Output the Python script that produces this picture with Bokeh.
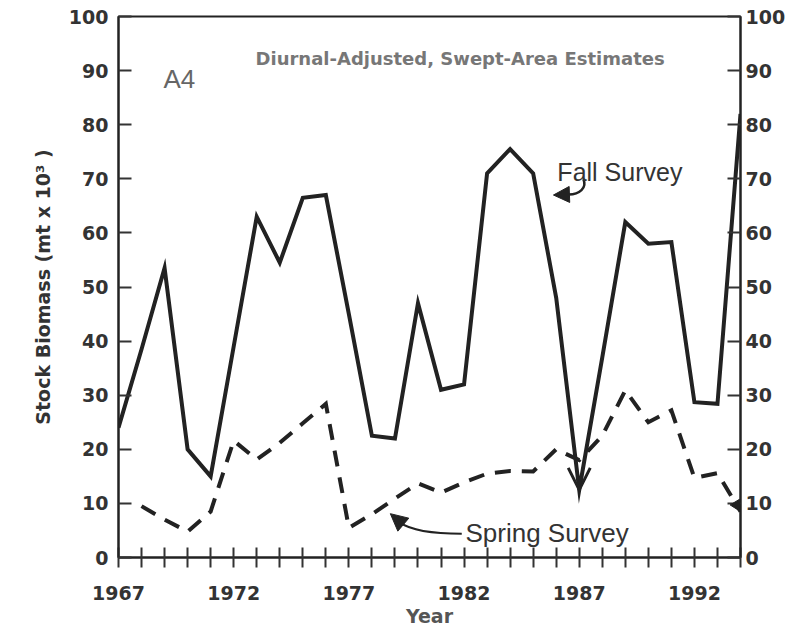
from bokeh.plotting import figure
from bokeh.models import (Range1d, LinearAxis, FixedTicker, Label, Arrow,
                          OpenHead, NormalHead, ColumnDataSource)
from bokeh.embed import file_html
from bokeh.resources import INLINE

# ---- data ----
fall_years = list(range(1967, 1995))
fall_biomass = [24, 38.5, 53.5, 20, 15, 39, 63, 54.5, 66.5, 67, 45, 22.5, 22, 47,
                31, 32, 71, 75.5, 71, 48, 12.5, 37, 62, 58, 58.3, 28.7, 28.4, 82]
spring_years = list(range(1968, 1995))
spring_biomass = [9.5, 7, 4.8, 8.5, 21.6, 18.1, 21.2, 24.8, 28.4, 5.5, 8, 10.9,
                  13.7, 12, 13.9, 15.5, 16, 15.9, 20, 18, 22.5, 30.9, 25, 27.2,
                  14.7, 15.6, 8.5]
x_ticks = list(range(1967, 1995))
x_labels = [1967, 1972, 1977, 1982, 1987, 1992]
y_ticks = list(range(0, 101, 10))

INK = "#222222"
TXT = "#333333"
GRAY = "#777777"
FONT = "DejaVu Sans"

p = figure(frame_width=622, frame_height=541,
           x_range=Range1d(1967, 1994), y_range=Range1d(0, 100),
           output_backend="svg", toolbar_location=None,
           min_border_left=118, min_border_right=53,
           min_border_top=16, min_border_bottom=70,
           background_fill_color="white", border_fill_color="white")
p.xgrid.visible = False
p.ygrid.visible = False
p.outline_line_color = INK
p.outline_line_width = 2

# x axis
xa = p.xaxis[0]
xa.ticker = FixedTicker(ticks=x_ticks, minor_ticks=[])
xa.major_label_overrides = {t: (str(t) if t in x_labels else "") for t in x_ticks}
xa.major_tick_in = 10
xa.major_tick_out = 10
xa.major_tick_line_width = 2
xa.major_tick_line_color = TXT
xa.axis_line_width = 2
xa.axis_line_color = INK
xa.major_label_text_font = FONT
xa.major_label_text_font_style = "bold"
xa.major_label_text_font_size = "19px"
xa.major_label_text_color = TXT
xa.major_label_standoff = 18
xa.axis_label = "Year"
xa.axis_label_text_font = FONT
xa.axis_label_text_font_style = "bold"
xa.axis_label_text_font_size = "19px"
xa.axis_label_text_color = "#555555"
xa.axis_label_standoff = 2

# left y axis
ya = p.yaxis[0]
ya.ticker = FixedTicker(ticks=y_ticks, minor_ticks=[])
ya.major_tick_in = 13
ya.major_tick_out = 0
ya.major_tick_line_width = 2
ya.major_tick_line_color = TXT
ya.axis_line_width = 2
ya.axis_line_color = INK
ya.major_label_text_font = FONT
ya.major_label_text_font_style = "bold"
ya.major_label_text_font_size = "19px"
ya.major_label_text_color = TXT
ya.major_label_standoff = 10
ya.axis_label = "Stock Biomass (mt x 10\u00b3 )"
ya.axis_label_text_font = FONT
ya.axis_label_text_font_style = "bold"
ya.axis_label_text_font_size = "19px"
ya.axis_label_text_color = TXT
ya.axis_label_standoff = 12

# right y axis
ra = LinearAxis(ticker=FixedTicker(ticks=y_ticks, minor_ticks=[]),
                major_tick_in=13, major_tick_out=0,
                major_tick_line_width=2, major_tick_line_color=TXT,
                axis_line_width=2, axis_line_color=INK,
                major_label_text_font=FONT, major_label_text_font_style="bold",
                major_label_text_font_size="19px", major_label_text_color=TXT,
                major_label_standoff=5)
p.add_layout(ra, "right")

# series
fall_src = ColumnDataSource(dict(x=fall_years, y=fall_biomass))
spring_src = ColumnDataSource(dict(x=spring_years, y=spring_biomass))
p.line("x", "y", source=fall_src, line_color=INK, line_width=4, line_join="miter")
p.line("x", "y", source=spring_src, line_color=INK, line_width=4,
       line_dash="16 11", line_join="miter")

# open arrowhead at the fall 1987 minimum
i87 = fall_years.index(1987)
p.add_layout(Arrow(end=OpenHead(size=22, line_width=3, line_color=INK),
                   x_start=fall_years[i87], y_start=fall_biomass[i87] + 4,
                   x_end=fall_years[i87], y_end=fall_biomass[i87],
                   line_alpha=0))
# small arrowhead at end of spring series
p.add_layout(Arrow(end=NormalHead(size=11, fill_color=INK, line_color=INK),
                   x_start=spring_years[-2], y_start=spring_biomass[-2],
                   x_end=spring_years[-1], y_end=spring_biomass[-1],
                   line_alpha=0))

# annotations
p.add_layout(Label(x=1972.95, y=92.2, text="Diurnal-Adjusted, Swept-Area Estimates",
                   text_font=FONT, text_font_style="bold", text_font_size="18px",
                   text_color=GRAY, text_baseline="alphabetic"))
p.add_layout(Label(x=1968.95, y=88.5, text="A4", text_font="Liberation Sans",
                   text_font_size="26px", text_color="#666666",
                   text_baseline="alphabetic"))
p.add_layout(Label(x=1986.05, y=71.3, text="Fall Survey", text_font="Liberation Sans",
                   text_font_size="25px", text_color=TXT, text_baseline="alphabetic"))
p.add_layout(Label(x=1982.06, y=4.6, text="Spring Survey", text_font="Liberation Sans",
                   text_font_size="26px", text_color=TXT, text_baseline="alphabetic"))

# curved pointers
p.bezier(x0=[1987.18], y0=[69.9], x1=[1986.55], y1=[67.1],
         cx0=[1987.35], cy0=[68.3], cx1=[1987.0], cy1=[67.1],
         line_color=INK, line_width=2.5)
p.add_layout(Arrow(end=NormalHead(size=16, fill_color=INK, line_color=INK),
                   x_start=1986.55, y_start=67.1, x_end=1985.88, y_end=67.0,
                   line_alpha=0))
p.bezier(x0=[1981.9], y0=[4.4], x1=[1979.2], y1=[6.5],
         cx0=[1980.4], cy0=[4.4], cx1=[1979.6], cy1=[5.3],
         line_color=INK, line_width=2)
p.add_layout(Arrow(end=NormalHead(size=17, fill_color=INK, line_color=INK),
                   x_start=1979.3, y_start=6.3, x_end=1978.8, y_end=8.1,
                   line_alpha=0))

open("out.html", "w").write(file_html(p, INLINE))
